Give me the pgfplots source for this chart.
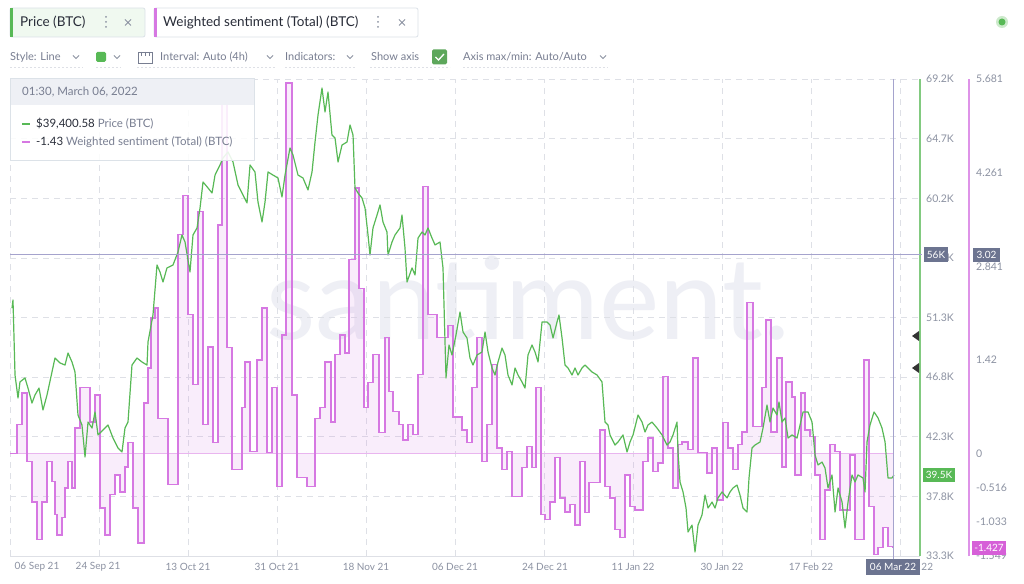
\documentclass[border=0pt]{standalone}
\usepackage{pgfplots}
\pgfplotsset{compat=1.18}
\usepackage{pgfplotstable}
\usepackage{fontspec}
\setmainfont{Lato}
\definecolor{pgreen}{RGB}{88,185,86}
\definecolor{ppink}{RGB}{214,120,226}
\definecolor{tgray}{RGB}{140,146,162}
\definecolor{ugray}{RGB}{120,126,145}
\definecolor{gridc}{RGB}{222,224,230}
\definecolor{xhair}{RGB}{165,163,205}
\definecolor{boxgray}{RGB}{108,116,144}
\definecolor{dark}{RGB}{40,44,56}
\definecolor{wmc}{RGB}{238,239,245}
\definecolor{tabgreen}{RGB}{240,249,240}
\definecolor{tabborder}{RGB}{220,226,232}
\definecolor{hdr}{RGB}{238,240,245}
\definecolor{boxpink}{RGB}{214,96,216}

\pgfplotstableread{
d p
0.41 51960
0.61 52570
1.02 46920
1.63 45190
2.03 46400
3.05 46700
3.66 45940
4.47 44810
5.09 45420
5.90 45940
6.71 44290
7.53 45420
8.54 47150
9.15 48200
10.17 47830
11.19 47670
11.80 48580
12.61 47900
13.22 47150
13.83 43910
14.64 43160
15.26 40750
15.87 43380
16.68 42930
17.29 44140
17.90 42410
18.92 42780
19.93 43160
20.95 42180
21.97 41430
22.78 41130
23.39 42930
24.00 43380
24.81 47670
25.83 48200
26.85 47900
27.87 47670
28.07 49410
29.08 51440
29.90 55200
30.51 54670
31.12 53920
31.93 54980
33.15 55200
34.17 56180
34.98 57460
35.60 56930
36.61 54670
37.22 57460
38.04 57990
38.65 59490
39.26 61450
40.27 61000
41.09 60620
41.70 61970
42.71 62730
43.32 63250
44.34 63710
45.36 62950
46.38 61220
47.39 60470
48.21 59870
48.82 62730
49.83 62200
50.44 59940
51.26 58440
51.87 59940
52.48 62200
53.49 61970
54.51 61750
55.32 60320
55.94 61970
56.95 64010
57.56 63480
58.58 61970
59.59 61750
60.61 60850
61.43 62200
62.04 64460
62.65 66490
63.46 68520
64.07 66720
64.68 68220
65.49 64980
66.11 64760
66.72 62950
67.53 64230
68.55 64460
69.16 65740
69.77 64980
70.17 61000
70.78 60620
71.60 60240
72.21 59490
72.82 57460
73.22 55950
73.83 57990
74.65 58960
75.26 59720
75.86 58440
76.68 57680
76.88 55950
77.70 56930
78.31 57460
79.33 57990
79.73 58960
80.34 56480
80.75 53920
81.77 54980
82.38 54450
82.99 57230
83.80 57680
84.41 57460
85.02 57990
85.83 57230
86.45 56710
87.46 56930
88.07 54980
88.48 49410
88.68 46700
89.29 49180
89.90 48430
90.71 49930
91.53 51660
92.14 50160
92.95 49710
93.56 48200
94.17 47670
94.99 48430
96.00 48650
96.62 50160
97.23 48650
98.04 47450
98.65 46920
99.26 47900
100.07 48950
100.68 48430
101.29 46920
102.11 46170
102.72 47450
103.33 46920
104.14 46400
104.75 45940
105.36 48430
106.17 49180
106.79 48650
107.40 47900
108.21 50910
109.22 50910
109.84 50690
110.45 49710
111.26 50910
111.66 51440
112.28 49710
112.89 47670
113.50 47450
114.31 46920
114.92 47450
115.53 46920
116.34 47450
116.96 47670
117.57 47450
118.38 47150
119.40 46920
120.41 46400
121.02 43380
121.63 43160
122.04 42410
123.06 41650
123.67 41880
124.68 42410
125.50 41130
126.11 41880
126.72 42410
127.74 43910
128.55 43380
129.16 42630
129.77 43160
130.58 43380
131.60 42930
132.62 42410
133.63 41650
134.24 41880
134.85 42410
135.67 43380
135.87 41130
136.28 38870
136.89 38120
137.50 36910
137.91 35110
138.72 35630
139.33 33600
139.94 35630
140.75 36390
141.36 37890
141.97 36910
142.79 37360
143.40 36910
144.00 37670
144.82 38120
145.84 37670
146.45 38120
147.06 38420
147.87 38640
148.48 37890
149.09 36910
149.90 36610
150.31 39170
150.92 41430
151.53 41650
152.55 41880
153.16 42930
153.97 44660
154.58 43380
155.19 44440
156.00 43910
156.41 44890
157.02 43380
157.64 43690
158.25 42180
159.06 42410
160.08 42180
160.69 43160
161.30 44140
162.31 44140
163.13 43380
163.74 40900
164.35 40150
165.16 40370
165.77 39920
166.38 38420
167.19 39400
167.81 36610
168.42 38420
169.23 37360
169.84 35410
170.45 37360
171.26 39400
171.87 38870
172.48 39400
173.50 39170
173.91 38120
174.31 41880
174.92 43160
175.74 44140
176.55 43690
177.36 42930
177.98 41880
178.58 39170
179.39 39170
179.80 39400
}\pricetab

\pgfplotstableread{
d s
0.00 0.00
1.42 0.44
2.44 0.92
3.46 -0.12
4.47 -0.73
5.49 -1.30
6.51 -0.73
7.53 -0.12
8.54 -0.42
9.15 -0.92
9.56 -1.23
10.58 -0.97
11.19 -0.52
11.80 -0.12
12.61 -0.52
13.22 0.39
14.24 1.00
16.27 0.48
17.29 0.89
18.31 -0.82
19.32 -1.23
20.34 -0.62
21.36 -0.32
22.37 -0.58
23.39 -0.20
24.00 0.17
25.02 -0.82
26.04 -1.35
27.26 0.77
28.07 1.30
28.68 2.06
29.49 2.21
30.10 0.54
32.14 -0.47
34.17 3.32
35.19 3.92
36.20 2.11
37.22 1.05
38.24 3.67
39.26 0.44
40.27 1.62
41.29 0.17
42.31 3.47
43.12 5.29
44.14 1.61
45.15 -0.24
47.18 0.70
47.80 1.39
48.82 0.03
50.24 1.42
51.26 2.21
52.27 0.02
53.29 1.00
54.31 -0.50
55.32 1.80
56.14 5.62
57.36 0.89
58.37 -0.36
60.41 -0.50
62.04 0.54
63.05 0.70
64.07 1.39
65.29 0.48
66.11 1.50
67.12 1.80
68.14 1.53
68.95 2.94
70.17 4.03
70.98 2.51
72.00 0.70
72.82 1.08
73.83 1.50
75.05 0.32
76.27 1.76
77.09 0.94
77.90 0.64
79.12 0.44
79.93 0.21
80.95 0.44
81.97 0.29
82.99 1.20
84.00 4.05
85.02 2.11
86.85 1.76
89.09 1.95
90.10 0.56
91.93 0.36
92.95 0.17
93.96 1.00
94.98 1.76
96.00 -0.12
97.02 0.44
98.04 1.35
99.05 0.09
100.07 -0.24
101.08 0.03
102.11 -0.65
104.14 -0.21
105.16 0.11
106.17 -0.21
106.99 1.00
108.00 -0.92
108.82 -1.00
109.84 -0.73
110.85 -0.06
111.87 -0.67
112.89 -0.88
113.90 -0.77
114.92 -1.08
115.94 -0.12
116.96 -0.89
117.76 -0.44
120.00 0.36
121.02 -0.50
122.04 -0.67
123.06 -1.15
124.07 -1.27
125.09 -0.32
126.11 -0.80
127.13 -0.85
128.75 -0.12
129.77 0.24
130.79 -0.27
131.80 -0.14
132.82 1.17
133.83 0.09
134.85 -0.52
135.87 0.14
136.68 0.18
137.91 0.06
138.92 1.45
139.94 0.02
141.77 -0.29
142.79 0.09
143.80 -0.70
145.02 0.47
146.04 0.09
147.06 -0.24
148.07 0.14
148.89 0.33
149.90 2.29
151.12 0.41
152.95 1.00
153.77 2.03
154.78 0.33
156.00 1.45
157.02 -0.20
157.83 1.09
159.06 0.86
159.66 -0.32
160.89 0.92
161.70 0.36
162.72 0.26
163.74 -0.32
164.75 -1.30
165.77 -0.55
166.79 0.14
167.81 0.03
168.82 -0.85
170.86 -0.02
171.87 -1.30
173.70 1.42
174.72 -0.80
175.74 -1.53
176.55 -1.42
177.56 -1.12
178.58 -1.41
179.60 -1.43
}\senttab

\pgfplotsset{
  common/.style={
    at={(10pt,27pt)}, anchor=south west, scale only axis,
    width=910pt, height=477pt, xmin=0, xmax=185.09,
    axis line style={draw=none}, tick style={draw=none},
    major tick length=0pt, scaled y ticks=false, scaled x ticks=false,
  }
}

\begin{document}
\begin{tikzpicture}
\begin{scope}[x=1pt,y=1pt]
\path[use as bounding box] (0,0) rectangle (1024,583);
\fill[white] (0,0) rectangle (1024,583);
\node[anchor=base, text=wmc, font=\fontsize{114}{114}\selectfont, inner sep=0pt] at (528,243) {santiment.};
\end{scope}

% grid + price tick labels
\begin{axis}[common, ymin=33300, ymax=69200,
  xtick={0,18.1,36.2,54.3,72.4,90.5,108.6,126.7,144.8,162.9,181},
  xticklabels={,,,,,,,,,,},
  ytick={33300,37787.5,42275,46762.5,51250,55737.5,60225,64712.5,69200},
  yticklabels={33.3K,37.8K,42.3K,46.8K,51.3K,55.7K,60.2K,64.7K,69.2K},
  yticklabel pos=right,
  yticklabel style={anchor=west, inner sep=0pt, xshift=6pt, text=tgray, font=\fontsize{10.5}{12}\selectfont},
  grid=major, grid style={gridc, dash pattern=on 6pt off 5pt, line width=0.7pt}]
\addplot[draw=none] coordinates {(0,40000)};
\end{axis}

% sentiment
\begin{axis}[common, ymin=-1.549, ymax=5.681, xtick=\empty,
  ytick={-1.549,-1.033,-0.516,0,1.42,2.841,4.261,5.681},
  yticklabels={-1.549,-1.033,-0.516,0,1.42,2.841,4.261,5.681},
  yticklabel pos=right,
  yticklabel style={anchor=west, inner sep=0pt, xshift=56pt, text=tgray, font=\fontsize{10.5}{12}\selectfont}]
\addplot[const plot, draw=none, fill=ppink, fill opacity=0.13] table[x=d, y=s] {\senttab} \closedcycle;
\addplot[ppink!55, line width=1pt] coordinates {(0,0) (179.6,0)};
\addplot[const plot, ppink, line width=1.3pt] table[x=d, y=s] {\senttab};
\end{axis}

% price
\begin{axis}[common, ymin=33300, ymax=69200, xtick=\empty, ytick=\empty]
\addplot[pgreen, line width=1.2pt, line join=round] table[x=d, y=p] {\pricetab};
\end{axis}

\begin{scope}[x=1pt,y=1pt]
% bottom line and axis lines
\draw[gridc, line width=0.8pt] (10,27) -- (920,27);
\draw[pgreen!75, line width=1.4pt] (920,27) -- (920,504);
\draw[ppink!80, line width=1.4pt] (969,27) -- (969,504);
% crosshair
\draw[xhair, line width=1pt] (10,328) -- (922,328);
\draw[xhair, line width=1pt] (893,504) -- (893,8);
% markers
\fill[black!80] (912,247) -- (919,252) -- (919,242) -- cycle;
\fill[black!80] (912,215) -- (919,220) -- (919,210) -- cycle;
% date labels
\foreach \xx/\tt in {37/06 Sep 21, 98/24 Sep 21, 188/13 Oct 21, 277/31 Oct 21, 366/18 Nov 21, 455/06 Dec 21, 545/24 Dec 21, 633/11 Jan 22, 722/30 Jan 22, 811/17 Feb 22, 910/06 Mar 22}
  \node[text=tgray, font=\fontsize{10}{12}\selectfont, inner sep=0pt] at (\xx,16) {\tt};
\fill[boxgray] (866,8) rectangle (920,24);
\node[text=white, font=\fontsize{10}{12}\selectfont, inner sep=0pt] at (893,16) {06 Mar 22};
% value boxes
\fill[boxgray] (924,320.5) rectangle (948,335.5);
\node[text=white, font=\fontsize{10}{12}\selectfont, inner sep=0pt] at (936,328) {56K};
\fill[boxgray] (973,321) rectangle (1000,335);
\node[text=white, font=\fontsize{10}{12}\selectfont, inner sep=0pt] at (986.5,328) {3.02};
\fill[pgreen] (923,101) rectangle (955,115);
\node[text=white, font=\fontsize{10}{12}\selectfont, inner sep=0pt] at (939,108) {39.5K};
\fill[boxpink] (972,28) rectangle (1006,42);
\node[text=white, font=\fontsize{10}{12}\selectfont, inner sep=0pt] at (989,35) {-1.427};
% tooltip
\fill[white, opacity=0.88] (10,423) rectangle (254,505);
\fill[hdr] (10,478) rectangle (254,505);
\draw[tabborder, line width=0.8pt] (10,423) rectangle (254,505);
\node[anchor=west, text=ugray, font=\fontsize{11.5}{13}\selectfont, inner sep=0pt] at (22,491) {01:30, March 06, 2022};
\draw[pgreen, line width=1.5pt] (22,459) -- (30,459);
\draw[ppink, line width=1.5pt] (22,441) -- (30,441);
\node[anchor=west, font=\fontsize{11.5}{13}\selectfont, inner sep=0pt] at (36,459) {\textcolor{dark}{\$39,400.58} \textcolor{ugray}{Price (BTC)}};
\node[anchor=west, font=\fontsize{11.5}{13}\selectfont, inner sep=0pt] at (36,441) {\textcolor{dark}{-1.43} \textcolor{ugray}{Weighted sentiment (Total) (BTC)}};
% tabs
\draw[fill=tabgreen, draw=tabborder, line width=0.8pt, rounded corners=2pt] (10,546) rectangle (145,575);
\fill[pgreen] (10,546) rectangle (12.5,575);
\node[anchor=west, text=dark, font=\fontsize{13.5}{15}\selectfont, inner sep=0pt] at (20,560.5) {Price (BTC)};
\foreach \yy in {556,561,566} \fill[tgray] (106,\yy) circle (1pt);
\draw[tgray, line width=0.8pt] (125,557.5) -- (131,563.5) (125,563.5) -- (131,557.5);
\draw[fill=white, draw=tabborder, line width=0.8pt, rounded corners=2pt] (154,546) rectangle (418,575);
\fill[ppink] (154,546) rectangle (156.5,575);
\node[anchor=west, text=dark, font=\fontsize{13.5}{15}\selectfont, inner sep=0pt] at (163,560.5) {Weighted sentiment (Total) (BTC)};
\foreach \yy in {556,561,566} \fill[tgray] (378,\yy) circle (1pt);
\draw[tgray, line width=0.8pt] (399,557.5) -- (405,563.5) (399,563.5) -- (405,557.5);
% toolbar row
\tikzset{chev/.style={tgray, line width=0.8pt}}
\node[anchor=west, text=ugray, font=\fontsize{11}{13}\selectfont, inner sep=0pt] at (10,526) {Style: Line};
\draw[chev] (73,527.5) -- (76,524.5) -- (79,527.5);
\fill[pgreen, rounded corners=1.5pt] (96,521) rectangle (106,531);
\draw[chev] (114,527.5) -- (117,524.5) -- (120,527.5);
\draw[ugray, line width=0.8pt] (138,520) rectangle (152,531);
\draw[ugray, line width=0.8pt] (141,531) -- (141,527) (145,531) -- (145,527) (149,531) -- (149,527);
\node[anchor=west, text=ugray, font=\fontsize{11}{13}\selectfont, inner sep=0pt] at (160,526) {Interval: Auto (4h)};
\draw[chev] (267,527.5) -- (270,524.5) -- (273,527.5);
\node[anchor=west, text=ugray, font=\fontsize{11}{13}\selectfont, inner sep=0pt] at (285,526) {Indicators:};
\draw[chev] (347,527.5) -- (350,524.5) -- (353,527.5);
\node[anchor=west, text=ugray, font=\fontsize{11}{13}\selectfont, inner sep=0pt] at (371,526) {Show axis};
\fill[pgreen!85!black!90, rounded corners=1.5pt] (432,518.5) rectangle (447,533.5);
\draw[white, line width=1.3pt] (435.5,526) -- (438.5,523) -- (444,529);
\node[anchor=west, text=ugray, font=\fontsize{11}{13}\selectfont, inner sep=0pt] at (463,526) {Axis max/min: Auto/Auto};
\draw[chev] (600,527.5) -- (603,524.5) -- (606,527.5);
\foreach \a/\b in {10/83, 96/121, 137/275, 285/355, 370/450, 463/608}
  \draw[gridc, line width=0.8pt, dash pattern=on 2pt off 2pt] (\a,516) -- (\b,516);
% status dot
\fill[pgreen!30] (1002,561) circle (6pt);
\fill[pgreen] (1002,561) circle (3.5pt);
\end{scope}
\end{tikzpicture}
\end{document}
